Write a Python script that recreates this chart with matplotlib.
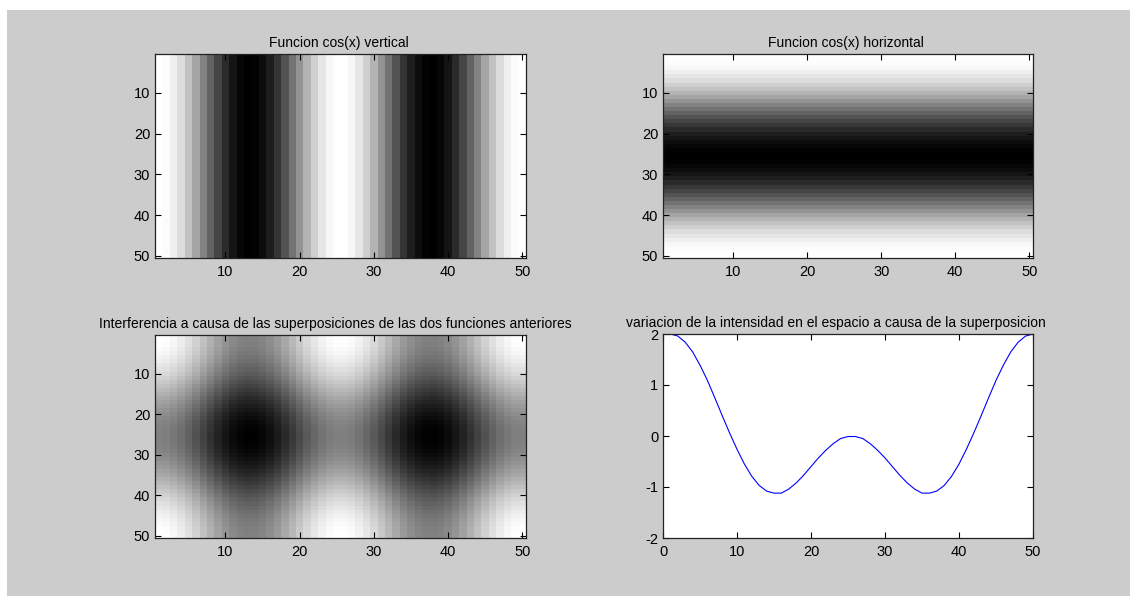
import numpy as np
import matplotlib
matplotlib.use("Agg")
import matplotlib.pyplot as plt
from matplotlib.patches import Rectangle

# Column profile: cos(x) sampled along the horizontal direction (two periods)
col_profile = [1.00, 0.97, 0.87, 0.72, 0.52, 0.29, 0.03, -0.22, -0.46, -0.67,
               -0.84, -0.95, -1.00, -0.98, -0.90, -0.77, -0.58, -0.35, -0.10, 0.16,
               0.41, 0.62, 0.80, 0.93, 0.99, 0.99, 0.93, 0.80, 0.62, 0.41,
               0.16, -0.10, -0.35, -0.58, -0.77, -0.90, -0.98, -1.00, -0.95, -0.84,
               -0.67, -0.46, -0.22, 0.03, 0.29, 0.52, 0.72, 0.87, 0.97, 1.00]

# Row profile: cos(x) sampled along the vertical direction (one period)
row_profile = [1.00, 0.99, 0.97, 0.93, 0.87, 0.80, 0.72, 0.62, 0.52, 0.41,
               0.29, 0.16, 0.03, -0.10, -0.22, -0.35, -0.46, -0.57, -0.67, -0.76,
               -0.84, -0.90, -0.95, -0.98, -1.00, -1.00, -0.98, -0.95, -0.90, -0.84,
               -0.76, -0.67, -0.57, -0.46, -0.35, -0.22, -0.10, 0.03, 0.16, 0.29,
               0.41, 0.52, 0.62, 0.72, 0.80, 0.87, 0.93, 0.97, 0.99, 1.00]

titles = ["Funcion cos(x) vertical",
          "Funcion cos(x) horizontal",
          "Interferencia a causa de las superposiciones de las dos funciones anteriores",
          "variacion de la intensidad en el espacio a causa de la superposicion"]

img_ticks = [10, 20, 30, 40, 50]
line_xticks = [0, 10, 20, 30, 40, 50]
line_yticks = [-2, -1, 0, 1, 2]

col = np.array(col_profile)
row = np.array(row_profile)
n = len(col)
vertical = np.tile(col, (n, 1))
horizontal = np.tile(row[:, None], (1, n))
combined = vertical + horizontal
intensity = np.diag(combined)
idx = np.arange(1, n + 1)

plt.rcParams["font.family"] = ["Liberation Sans", "DejaVu Sans"]
plt.rcParams["font.size"] = 10
plt.rcParams["axes.unicode_minus"] = False

W, H = 1130, 596
fig = plt.figure(figsize=(W / 100, H / 100), dpi=100, facecolor="white")
fig.patches.append(Rectangle((7 / W, 0), 1 - 7 / W, 1 - 10 / H,
                             transform=fig.transFigure, facecolor="#cccccc",
                             edgecolor="none", zorder=-10))


def px_axes(left, top, right, bottom):
    return fig.add_axes([left / W, 1 - bottom / H, (right - left) / W, (bottom - top) / H])


def style(ax):
    ax.tick_params(direction="in", length=4, width=0.8, top=True, right=True,
                   labelsize=10.5, colors="black")
    ax.tick_params(axis="x", pad=5)
    ax.tick_params(axis="y", pad=3.5)
    for s in ax.spines.values():
        s.set_linewidth(0.9)
        s.set_color("#222222")


def add_title(ax, text, xfrac):
    ax.set_title(text, fontsize=10, pad=5)
    ax.title.set_x(xfrac)


boxes = [(155, 54, 526, 258), (663, 54, 1033, 258),
         (155, 335, 526, 538), (663, 334, 1033, 538)]
title_x = [0.495, 0.495, 0.487, 0.468]
images = [vertical, horizontal, combined]

for k in range(3):
    ax = px_axes(*boxes[k])
    ax.imshow(images[k], cmap="gray", aspect="auto", interpolation="nearest",
              extent=(0.5, n + 0.5, n + 0.5, 0.5))
    ax.set_xticks(img_ticks)
    ax.set_yticks(img_ticks)
    style(ax)
    add_title(ax, titles[k], title_x[k])

ax = px_axes(*boxes[3])
ax.plot(idx, intensity, color="blue", linewidth=0.8)
ax.set_xlim(0, 50)
ax.set_ylim(-2, 2)
ax.set_xticks(line_xticks)
ax.set_yticks(line_yticks)
style(ax)
add_title(ax, titles[3], title_x[3])

fig.savefig("out.png", dpi=100, facecolor=fig.get_facecolor())
